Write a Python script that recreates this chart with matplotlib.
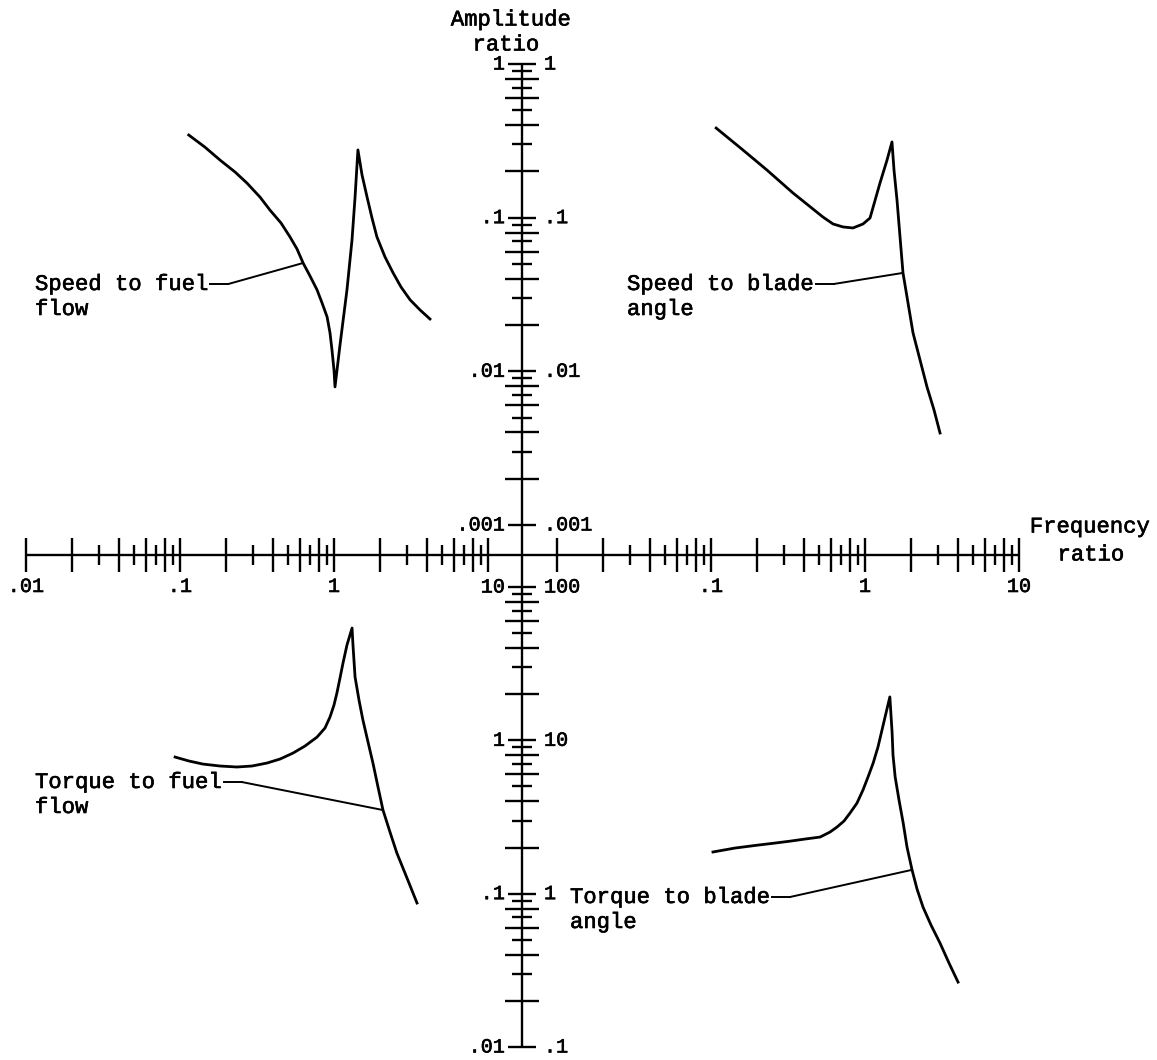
import numpy as np
import matplotlib.pyplot as plt
import matplotlib.patheffects as pe
from matplotlib.transforms import blended_transform_factory

plt.rcParams['font.family'] = ['Liberation Mono', 'DejaVu Sans Mono']

# frequency ratio / amplitude ratio for the four responses
sf_freq = [0.114, 0.145, 0.182, 0.228, 0.272, 0.331, 0.384, 0.453, 0.518, 0.575,
           0.630, 0.698, 0.776, 0.836, 0.902, 0.942, 0.970, 1.00, 1.015, 1.094,
           1.214, 1.309, 1.37, 1.43, 1.52, 1.64, 1.765, 1.90, 2.144, 2.42,
           2.723, 3.12, 3.618, 4.20]
sf_amp = [0.345, 0.288, 0.237, 0.198, 0.168, 0.136, 0.112, 0.0923, 0.0749, 0.0626,
          0.0507, 0.0418, 0.0339, 0.0279, 0.0226, 0.0178, 0.0138, 0.0102, 0.00792, 0.01485,
          0.0339, 0.0716, 0.136, 0.276, 0.190, 0.136, 0.0995, 0.0749, 0.0555, 0.0437,
          0.0354, 0.0292, 0.0251, 0.0219]

sb_freq = [0.108, 0.161, 0.231, 0.340, 0.533, 0.620, 0.720, 0.836, 0.971, 1.078,
           1.251, 1.390, 1.497, 1.543, 1.614, 1.688, 1.765, 1.902, 2.050, 2.276,
           2.527, 2.806, 3.07]
sb_amp = [0.383, 0.276, 0.204, 0.145, 0.101, 0.0910, 0.0870, 0.0857, 0.0910, 0.0995,
          0.168, 0.237, 0.311, 0.204, 0.130, 0.0749, 0.0437, 0.0279, 0.0178, 0.01187,
          0.00792, 0.00561, 0.00397]

tf_freq = [0.0929, 0.1144, 0.141, 0.1818, 0.234, 0.2935, 0.367, 0.4461, 0.542, 0.648,
           0.776, 0.874, 0.942, 1.00, 1.045, 1.094, 1.144, 1.214, 1.31, 1.328,
           1.37, 1.453, 1.54, 1.663, 1.79, 1.931, 2.08, 2.31, 2.56, 2.979,
           3.46]
tf_amp = [0.778, 0.733, 0.700, 0.680, 0.670, 0.680, 0.711, 0.755, 0.826, 0.918,
          1.05, 1.203, 1.42, 1.699, 2.04, 2.55, 3.19, 4.184, 5.40, 4.184,
          2.59, 1.832, 1.36, 0.975, 0.711, 0.496, 0.351, 0.2522, 0.184, 0.1264,
          0.0869]

tb_freq = [0.103, 0.1432, 0.199, 0.2603, 0.326, 0.4077, 0.511, 0.5925, 0.658, 0.7305,
           0.800, 0.8873, 0.970, 1.046, 1.13, 1.214, 1.29, 1.369, 1.45, 1.475,
           1.50, 1.52, 1.57, 1.663, 1.77, 1.874, 2.02, 2.177, 2.38, 2.683,
           3.07, 3.512, 4.02]
tb_amp = [1.87, 1.984, 2.07, 2.138, 2.20, 2.271, 2.34, 2.522, 2.72, 2.976,
          3.36, 3.899, 4.74, 5.762, 7.11, 9.04, 11.7, 15.07, 19.2, 14.62,
          11.2, 8.02, 5.76, 4.079, 2.89, 2.014, 1.43, 1.072, 0.818, 0.624,
          0.476, 0.3527, 0.265]

# where each label's leader line meets its curve
sf_point = (0.630, 0.0507)
sb_point = (1.765, 0.0437)
tf_point = (2.08, 0.351)
tb_point = (2.02, 1.43)

freq_labels = ['.01', '.1', '1', '10']
amp_upper = ['1', '.1', '.01', '.001']
amp_lower_left = ['10', '1', '.1', '.01']
amp_lower_right = ['100', '10', '1', '.1']

# layout in pixels
W, H = 1157, 1060
X_AXIS = 555
Y_AXIS = 522
LEFT = (26, 488)
RIGHT = (557, 1019)
UPPER = (64, 525)
LOWER = (587, 1047)

fig = plt.figure(figsize=(W / 100, H / 100), dpi=100)
bg = fig.add_axes([0, 0, 1, 1])
bg.set_xlim(0, W)
bg.set_ylim(H, 0)
bg.axis('off')


def quadrant(xs, ys, ylim):
    ax = fig.add_axes([xs[0] / W, 1 - ys[1] / H, (xs[1] - xs[0]) / W, (ys[1] - ys[0]) / H])
    ax.set_xscale('log')
    ax.set_yscale('log')
    ax.set_xlim(0.01, 10)
    ax.set_ylim(*ylim)
    ax.axis('off')
    return ax


ax_sf = quadrant(LEFT, UPPER, (0.001, 1))
ax_sb = quadrant(RIGHT, UPPER, (0.001, 1))
ax_tf = quadrant(LEFT, LOWER, (0.01, 10))
ax_tb = quadrant(RIGHT, LOWER, (0.1, 100))

kw = dict(color='black', lw=1.7, solid_capstyle='butt')
# slightly heavier lettering, like a typewriter
heavy = [pe.withStroke(linewidth=0.45, foreground='black')]

# the two axis lines
bg.plot([LEFT[0], RIGHT[1] + 1], [X_AXIS, X_AXIS], **kw)
bg.plot([Y_AXIS, Y_AXIS], [UPPER[0], LOWER[1] + 1], **kw)


def tick_len(m, decade):
    if m == 1:
        return decade
    return 17 if m % 2 == 0 else 10


def log_ticks(lo, hi):
    vals = []
    d = lo
    while d < hi * 0.999:
        for m in range(1, 10):
            vals.append((d * m, m))
        d *= 10
    vals.append((hi, 1))
    return vals


# frequency ticks on both halves
for ax in (ax_sf, ax_sb):
    tr = blended_transform_factory(ax.transData, bg.transData)
    for v, m in log_ticks(0.01, 10):
        h = tick_len(m, 17)
        bg.plot([v, v], [X_AXIS - h, X_AXIS + h], transform=tr, **kw)

# amplitude ticks on upper and lower halves
for ax, lo, hi in ((ax_sf, 0.001, 1), (ax_tf, 0.01, 10)):
    tr = blended_transform_factory(bg.transData, ax.transData)
    for v, m in log_ticks(lo, hi):
        h = tick_len(m, 14)
        bg.plot([Y_AXIS - h, Y_AXIS + h], [v, v], transform=tr, **kw)

fs_tick = 14.5
fs_text = 16
txt = dict(path_effects=heavy)

# amplitude labels either side of the vertical axis
for ax, labels, side in ((ax_sf, amp_upper, 'left'), (ax_sb, amp_upper, 'right'),
                         (ax_tf, amp_lower_left, 'left'), (ax_tb, amp_lower_right, 'right')):
    tr = blended_transform_factory(bg.transData, ax.transData)
    lo, hi = ax.get_ylim()
    vals = [hi / 10 ** i for i in range(4)]
    for v, s in zip(vals, labels):
        if side == 'left':
            bg.text(Y_AXIS - 17, v, s, transform=tr, ha='right', va='center',
                    fontsize=fs_tick, **txt)
        else:
            bg.text(Y_AXIS + 22, v, s, transform=tr, ha='left', va='center',
                    fontsize=fs_tick, **txt)

# frequency labels under the horizontal axis
for ax, labels in ((ax_sf, freq_labels[:3]), (ax_sb, freq_labels[1:])):
    tr = blended_transform_factory(ax.transData, bg.transData)
    vals = [float('0' + s) if s.startswith('.') else float(s) for s in labels]
    for v, s in zip(vals, labels):
        bg.text(v, X_AXIS + 22, s, transform=tr, ha='center', va='top',
                fontsize=fs_tick, **txt)

bg.text(511, 20, 'Amplitude', ha='center', va='center', fontsize=fs_text, **txt)
bg.text(506, 45, 'ratio', ha='center', va='center', fontsize=fs_text, **txt)
bg.text(1090, 527, 'Frequency', ha='center', va='center', fontsize=fs_text, **txt)
bg.text(1091, 555, 'ratio', ha='center', va='center', fontsize=fs_text, **txt)

# response curves
for ax, f, a in ((ax_sf, sf_freq, sf_amp), (ax_sb, sb_freq, sb_amp),
                 (ax_tf, tf_freq, tf_amp), (ax_tb, tb_freq, tb_amp)):
    ax.plot(f, a, color='black', lw=2.0, solid_joinstyle='round')

# curve names with leader lines
names = [
    (ax_sf, sf_point, (35, 290), ('Speed to fuel', 'flow')),
    (ax_sb, sb_point, (627, 290), ('Speed to blade', 'angle')),
    (ax_tf, tf_point, (35, 788), ('Torque to fuel', 'flow')),
    (ax_tb, tb_point, (570, 903), ('Torque to blade', 'angle')),
]
char_w = fs_text * 0.6 * 100 / 72
for ax, pt, (tx, ty), (line1, line2) in names:
    bg.text(tx, ty, line1, ha='left', va='baseline', fontsize=fs_text, **txt)
    bg.text(tx, ty + 25, line2, ha='left', va='baseline', fontsize=fs_text, **txt)
    x_end = tx + len(line1) * char_w + 2
    y_mid = ty - 6
    bg.plot([x_end, x_end + 18], [y_mid, y_mid], color='black', lw=1.4)
    ax.annotate('', xy=pt, xycoords='data', xytext=(x_end + 18, y_mid),
                textcoords=bg.transData,
                arrowprops=dict(arrowstyle='-', lw=1.4, color='black',
                                shrinkA=0, shrinkB=0))

fig.savefig('out.png', dpi=100, facecolor='white')
